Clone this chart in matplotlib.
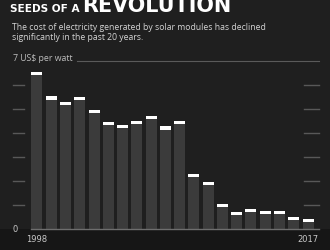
import matplotlib
matplotlib.use("Agg")
import matplotlib.pyplot as plt
import matplotlib.transforms as mtransforms
from matplotlib.patches import Rectangle

# ---- data ----
years = list(range(1998, 2018))
price = [6.49, 5.46, 5.24, 5.44, 4.90, 4.38, 4.28, 4.44, 4.64, 4.21,
         4.44, 2.22, 1.89, 0.99, 0.64, 0.76, 0.69, 0.67, 0.42, 0.35]
yticks = [1, 2, 3, 4, 5, 6]
y_top = 7
xlabels = ["1998", "2017"]
xlabel_years = [1998, 2017]
title_a = "SEEDS OF A"
title_b = "REVOLUTION"
subtitle = ["The cost of electricity generated by solar modules has declined",
            "significantly in the past 20 years."]
unit_label = "7 US$ per watt"

W, H = 330, 250
fig = plt.figure(figsize=(3.3, 2.5), dpi=100)
fig.patch.set_facecolor('#1f1f1f')


def fx(px):
    return px / W


def fy(py):
    return 1 - py / H


fig.add_artist(Rectangle((0, 0), 1, fy(229), transform=fig.transFigure,
                         facecolor='#161616', edgecolor='none', zorder=0))

ax = fig.add_axes([fx(31), fy(229), fx(319) - fx(31), fy(61) - fy(229)])
ax.set_facecolor('none')
ax.axis('off')
ax.set_xlim(1997.58, 2017.77)
ax.set_ylim(0, 7)

bw = 0.77
ax.bar(years, price, width=bw, color='#3b3b3b', zorder=2)
ax.bar(years, [0.13] * len(price), bottom=[p - 0.065 for p in price],
       width=bw, color='white', zorder=3)

blend = mtransforms.blended_transform_factory(ax.transAxes, ax.transData)
for v in yticks:
    ax.plot([-0.0625, -0.024], [v, v], transform=blend, color='#585858',
            lw=1, clip_on=False, zorder=1)
    ax.plot([0.948, 1.0], [v, v], transform=blend, color='#585858',
            lw=1, clip_on=False, zorder=1)
ax.plot([0.16, 1.0], [y_top, y_top], transform=blend, color='#5a5a5a',
        lw=0.8, clip_on=False)
ax.plot([0, 1.0], [0, 0], transform=blend, color='#6e6e6e', lw=1,
        clip_on=False, zorder=4)

ax.text(-0.0556, 0, "0", transform=blend, ha='center', va='center',
        color='#c8c8c8', fontsize=6, family='DejaVu Sans')
t_unit = ax.text(-0.0625, y_top, unit_label, transform=blend, ha='left',
                 va='baseline', color='#bdbdbd', fontsize=6, family='Open Sans')

for yr, lab in zip(xlabel_years, xlabels):
    ax.text(yr, -0.45, lab, ha='center', va='center', color='#c8c8c8',
            fontsize=6, family='DejaVu Sans')

t_a = fig.text(fx(10), fy(11.5), title_a, ha='left', va='baseline',
               color='white', fontsize=14, fontweight='bold',
               family=['Liberation Sans Narrow', 'DejaVu Sans'])
t_b = fig.text(fx(82), fy(11.5), title_b, ha='left', va='baseline',
               color='white', fontsize=14, fontweight='heavy',
               family='DejaVu Sans')
s1 = fig.text(fx(12), fy(29.5), subtitle[0], ha='left', va='baseline',
              color='#d4d4d4', fontsize=7, family='Open Sans')
s2 = fig.text(fx(12), fy(40), subtitle[1], ha='left', va='baseline',
              color='#d4d4d4', fontsize=7, family='Open Sans')

fig.canvas.draw()
r = fig.canvas.get_renderer()


def fit(t, width_px):
    bb = t.get_window_extent(renderer=r)
    t.set_fontsize(t.get_fontsize() * width_px / bb.width)


fit(t_a, 70)
fit(t_b, 150)
fit(s1, 255)
s2.set_fontsize(s1.get_fontsize())
fit(t_unit, 60)

fig.savefig('out.png', dpi=100, facecolor=fig.get_facecolor())
